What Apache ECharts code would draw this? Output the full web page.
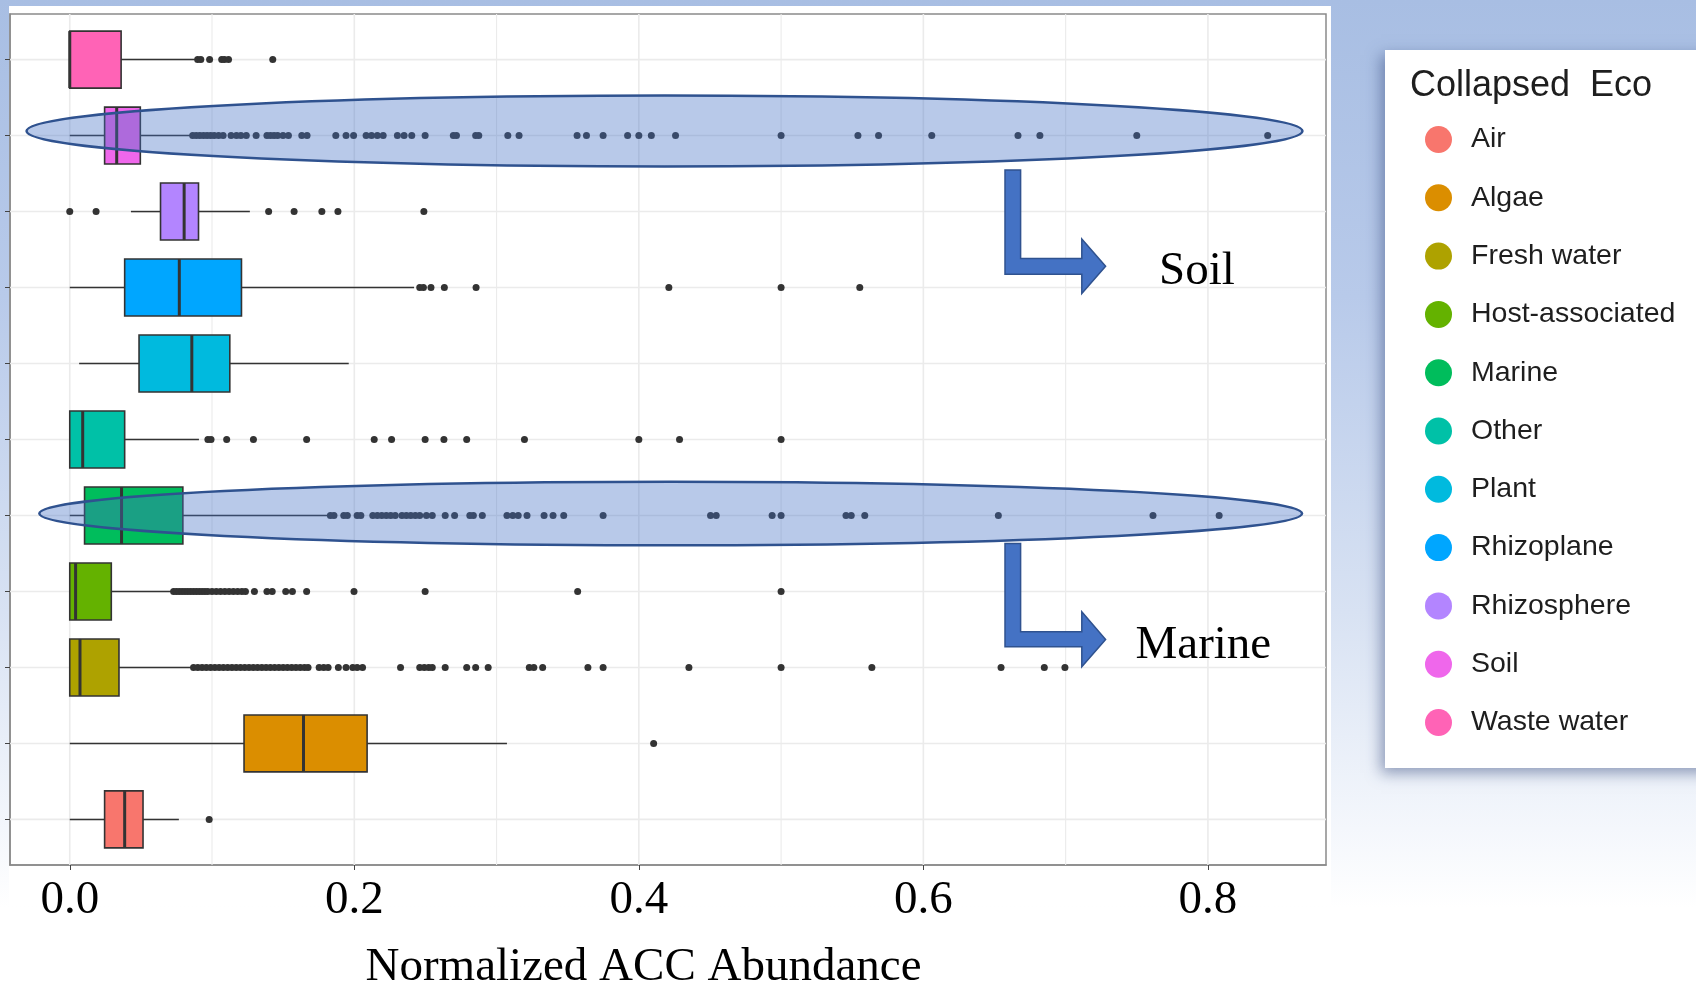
<!DOCTYPE html>
<html><head><meta charset="utf-8">
<script src="https://cdn.jsdelivr.net/npm/echarts@6/dist/echarts.min.js"></script>
<style>
html,body{margin:0;padding:0;}
#c{width:1696px;height:987px;background:linear-gradient(180deg,#a8bee3 0%,#b8caea 30%,#d8e2f3 62%,#f4f7fc 84%,#ffffff 92%);}
</style></head><body><div id="c"></div>
<script>
// ---- data ----
const categories = ['Air','Algae','Fresh water','Host-associated','Marine','Other','Plant','Rhizoplane','Rhizosphere','Soil','Waste water'];
const palette = ['#F8766D','#DB8E00','#AEA200','#64B200','#00BD5C','#00C1A7','#00BADE','#00A6FF','#B385FF','#EF67EB','#FF63B6'];
const boxMin    = [0,      0,      0,      0,      0,      0,      0.0066, 0,      0.043,  0,      0];
const boxQ1     = [0.0245, 0.1225, 0,      0,      0.0104, 0,      0.0487, 0.0386, 0.0638, 0.0245, 0];
const boxMedian = [0.0386, 0.1643, 0.0072, 0.0041, 0.0364, 0.0091, 0.0858, 0.077,  0.0804, 0.033,  0];
const boxQ3     = [0.0515, 0.209,  0.0346, 0.0292, 0.0795, 0.0386, 0.1125, 0.1207, 0.0905, 0.0496, 0.0361];
const boxMax    = [0.0767, 0.3073, 0.0858, 0.0726, 0.1816, 0.0908, 0.1961, 0.242,  0.1266, 0.0858, 0.0889];

const outAir = [0.098];
const outAlgae = [0.4104];
const outFresh = [0.087,0.09,0.093,0.096,0.099,0.102,0.105,0.108,0.111,0.114,0.117,0.12,0.123,0.126,0.129,0.132,0.135,0.138,0.141,0.144,0.147,0.15,0.153,0.156,0.159,0.162,0.165,0.1675,
  0.1753,0.1785,0.1816,0.1888,0.1942,0.1989,0.202,0.2058,0.2325,0.246,0.2492,0.2523,0.2548,0.2639,0.279,0.2853,0.2941,0.323,0.3262,0.3324,0.3642,0.3749,0.4352,0.5,0.5638,0.6546,0.685,0.6995];
const outHost = [0.073,0.075,0.077,0.079,0.081,0.083,0.085,0.087,0.089,0.091,0.093,0.095,0.097,0.1,0.103,0.106,0.109,0.112,0.115,0.118,0.121,0.1235,
  0.1298,0.1386,0.1423,0.1518,0.1565,0.1665,0.1998,0.2498,0.357,0.5];
const outMarine = [0.1832,0.1857,0.1926,0.1951,0.202,0.2046,0.213,0.2162,0.2193,0.2225,0.2256,0.2288,0.2335,0.2366,0.2397,0.2429,0.246,0.2507,0.2548,0.2639,0.2705,0.2812,0.2837,0.29,
  0.3073,0.3114,0.3152,0.3214,0.3334,0.3397,0.3472,0.3749,0.4504,0.4544,0.4937,0.5,0.5456,0.5493,0.5588,0.6527,0.7614,0.8079];
const outOther = [0.0971,0.0993,0.1103,0.1291,0.1665,0.214,0.2262,0.2498,0.263,0.279,0.3196,0.4,0.4286,0.5];
const outPlant = [];
const outRhizoplane = [0.246,0.2486,0.2539,0.2633,0.2856,0.4211,0.5,0.5553];
const outRhizosphere = [0,0.0185,0.1398,0.1577,0.1772,0.1885,0.2489];
const outSoil = [0.0864,0.0889,0.0914,0.094,0.0965,0.099,0.1015,0.1046,0.1078,0.1134,0.1172,0.1203,0.1241,0.131,0.1386,0.1411,0.1436,0.1461,0.1499,0.1537,0.1631,0.1668,
  0.187,0.1942,0.1995,0.2083,0.2121,0.2162,0.2203,0.2303,0.235,0.2404,0.2498,0.2696,0.2718,0.2853,0.2875,0.3079,0.3158,0.3566,0.3632,0.3749,0.3921,0.4,0.4088,0.4258,
  0.5,0.554,0.5685,0.6059,0.6665,0.6819,0.75,0.842];
const outWaste = [0.0899,0.0921,0.0983,0.1068,0.1087,0.1116,0.1427];
const outliers = [outAir,outAlgae,outFresh,outHost,outMarine,outOther,outPlant,outRhizoplane,outRhizosphere,outSoil,outWaste];

const xTicks = [0, 0.2, 0.4, 0.6, 0.8];
const xMinor = [0.1, 0.3, 0.5, 0.7];
const rows = categories.map((c, i) => i + 1);

// ---- layout constants ----
const X_MIN = -0.042, X_MAX = 0.883, Y_MIN = 0.4, Y_MAX = 11.6, BOX_HALF = 0.375;

function boxRender(params, api) {
  const y = api.value(0);
  const lo = api.coord([api.value(1), y]);
  const q1 = api.coord([api.value(2), y]);
  const md = api.coord([api.value(3), y]);
  const q3 = api.coord([api.value(4), y]);
  const hi = api.coord([api.value(5), y]);
  const top = api.coord([api.value(2), y + BOX_HALF])[1];
  const bot = api.coord([api.value(2), y - BOX_HALF])[1];
  const color = api.visual('color');
  return {type: 'group', children: [
    {type: 'line', shape: {x1: lo[0], y1: lo[1], x2: q1[0], y2: q1[1]}, style: {stroke: '#333', lineWidth: 1.5}},
    {type: 'line', shape: {x1: q3[0], y1: q3[1], x2: hi[0], y2: hi[1]}, style: {stroke: '#333', lineWidth: 1.5}},
    {type: 'rect', shape: {x: q1[0], y: top, width: Math.max(q3[0] - q1[0], 0.5), height: bot - top}, style: {fill: color, stroke: '#333', lineWidth: 1.6}},
    {type: 'line', shape: {x1: md[0], y1: top, x2: md[0], y2: bot}, style: {stroke: '#333', lineWidth: 3}}
  ]};
}

const series = [];
series.push({
  type: 'custom', silent: true, z: 1,
  data: xTicks.map(v => [v, 1.6]).concat(xMinor.map(v => [v, 1.1])),
  encode: {x: 0, y: 1},
  renderItem: (p, api) => {
    const a = api.coord([api.value(0), Y_MIN]), b = api.coord([api.value(0), Y_MAX]);
    return {type: 'line', shape: {x1: a[0], y1: a[1], x2: b[0], y2: b[1]}, style: {stroke: '#ebebeb', lineWidth: api.value(1)}};
  }
});
series.push({
  type: 'custom', silent: true, z: 1,
  data: rows.map(r => [0, r]),
  encode: {x: 0, y: 1},
  renderItem: (p, api) => {
    const a = api.coord([X_MIN, api.value(1)]), b = api.coord([X_MAX, api.value(1)]);
    return {type: 'line', shape: {x1: a[0], y1: a[1], x2: b[0], y2: b[1]}, style: {stroke: '#ebebeb', lineWidth: 1.6}};
  }
});
categories.forEach((c, i) => {
  series.push({
    type: 'custom', name: c, z: 3,
    itemStyle: {color: palette[i]},
    encode: {x: [1, 2, 3, 4, 5], y: 0},
    data: [[i + 1, boxMin[i], boxQ1[i], boxMedian[i], boxQ3[i], boxMax[i]]],
    renderItem: boxRender
  });
});
const outData = [];
outliers.forEach((arr, i) => arr.forEach(v => outData.push([v, i + 1])));
series.push({
  type: 'scatter', z: 4, silent: true, symbolSize: 7,
  itemStyle: {color: '#333333', opacity: 1},
  data: outData
});

const serif = 'Liberation Serif';
const option = {
  backgroundColor: 'transparent',
  animation: false,
  grid: {left: 10, top: 14, width: 1316, height: 851, show: true, borderColor: '#8a8a8a', borderWidth: 1.5, backgroundColor: '#fff',
    outerBoundsMode: 'none', containLabel: false},
  xAxis: {
    type: 'value', min: X_MIN, max: X_MAX,
    splitLine: {show: false},
    axisLine: {show: true, onZero: false, lineStyle: {color: '#8a8a8a', width: 1.5}},
    axisTick: {show: true, customValues: xTicks, length: 5, lineStyle: {color: '#444'}},
    axisLabel: {customValues: xTicks, formatter: v => v.toFixed(1), fontFamily: serif, fontSize: 47, color: '#000', margin: 36, verticalAlign: 'middle'},
    name: 'Normalized ACC Abundance', nameLocation: 'middle', nameGap: 103,
    nameTextStyle: {fontFamily: serif, fontSize: 47, color: '#000', verticalAlign: 'middle', padding: [0, 49, 0, 0]}
  },
  yAxis: {
    type: 'value', min: Y_MIN, max: Y_MAX,
    splitLine: {show: false},
    axisLabel: {show: false},
    axisTick: {show: true, customValues: rows, length: 5, lineStyle: {color: '#444'}},
    axisLine: {show: true, onZero: false, lineStyle: {color: '#8a8a8a', width: 1.5}}
  },
  legend: {
    data: categories, orient: 'vertical', left: 1425, top: 125, padding: 0,
    icon: 'circle', itemWidth: 27, itemHeight: 27, itemGap: 29.3, selectedMode: false,
    textStyle: {fontFamily: 'Liberation Sans', fontSize: 28.5, lineHeight: 28, color: '#1e1e1e', padding: [0, 0, 0, 14]}
  },
  graphic: [
    {type: 'rect', z: -10, silent: true, shape: {x: 9, y: 6, width: 1322, height: 900}, style: {fill: '#ffffff'}},
    {type: 'rect', z: 1, silent: true, shape: {x: 1385, y: 50, width: 340, height: 718},
      style: {fill: '#ffffff', shadowBlur: 14, shadowColor: 'rgba(60,80,130,0.55)', shadowOffsetX: -4, shadowOffsetY: 5}},
    {type: 'text', z: 10, silent: true, style: {text: 'Collapsed  Eco', x: 1410, y: 86.5, fontFamily: 'Liberation Sans', fontSize: 36, fill: '#1e1e1e', verticalAlign: 'middle'}},
    {type: 'ellipse', z: 100, silent: true, shape: {cx: 664.5, cy: 131, rx: 638, ry: 35.5},
      style: {fill: 'rgba(68,114,196,0.38)', stroke: '#2f528f', lineWidth: 2.5}},
    {type: 'ellipse', z: 100, silent: true, shape: {cx: 670.7, cy: 513.5, rx: 631.4, ry: 31.7},
      style: {fill: 'rgba(68,114,196,0.38)', stroke: '#2f528f', lineWidth: 2.5}},
    {type: 'polygon', z: 100, silent: true, shape: {points: [[1005,170],[1020.6,170],[1020.6,258.5],[1081.8,258.5],[1081.8,239],[1105.6,266.2],[1081.8,293.5],[1081.8,274.2],[1005,274.2]]},
      style: {fill: '#4472c4', stroke: '#2f528f', lineWidth: 1.5}},
    {type: 'polygon', z: 100, silent: true, shape: {points: [[1005,543.5],[1020.6,543.5],[1020.6,631.8],[1081.8,631.8],[1081.8,611.8],[1105.6,639.5],[1081.8,666.8],[1081.8,646.8],[1005,646.8]]},
      style: {fill: '#4472c4', stroke: '#2f528f', lineWidth: 1.5}},
    {type: 'text', z: 100, silent: true, style: {text: 'Soil', x: 1159, y: 272, fontFamily: serif, fontSize: 47, fill: '#000', verticalAlign: 'middle'}},
    {type: 'text', z: 100, silent: true, style: {text: 'Marine', x: 1135.5, y: 645.5, fontFamily: serif, fontSize: 47, fill: '#000', verticalAlign: 'middle'}}
  ],
  series: series
};
const chart = echarts.init(document.getElementById('c'));
chart.setOption(option);
</script></body></html>
